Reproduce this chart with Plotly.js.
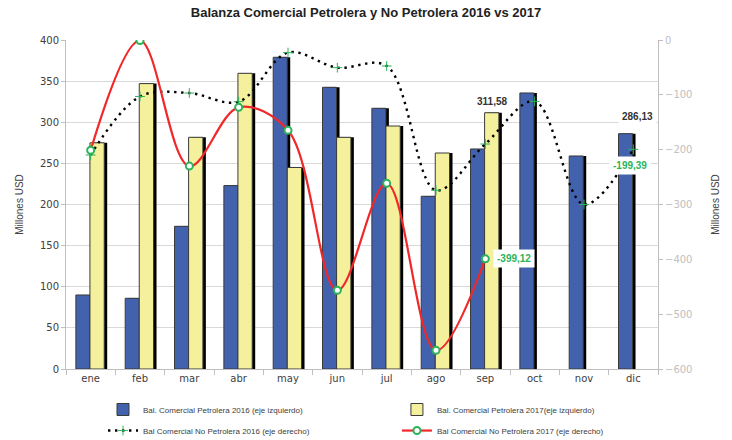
<!DOCTYPE html>
<html>
<head>
<meta charset="utf-8">
<script src="https://cdn.plot.ly/plotly-3.0.1.min.js"></script>
<style>html,body{margin:0;padding:0;background:#fff;}#chart{width:732px;height:440px;}</style>
</head>
<body>
<div id="chart"></div>
<script>
const months = ['ene','feb','mar','abr','may','jun','jul','ago','sep','oct','nov','dic'];
const petro2016 = [90, 86, 173.5, 223, 379, 342.5, 317, 210, 267.5, 335.6, 259, 286.13];
const petro2017 = [275, 347, 281.7, 359.5, 245, 281.7, 295.4, 262.6, 311.58, null, null, null];
const noPetro2016 = [-209.7, -103, -96.7, -112.5, -23, -50.4, -47.4, -274, -189.7, -111.9, -300, -199.39];
const noPetro2017 = [-201, -1, -230, -122.8, -164.7, -456.5, -261.4, -566, -399.12, null, null, null];
const seriesNames = [
  'Bal. Comercial Petrolera 2016 (eje izquierdo)',
  'Bal. Comercial Petrolera 2017(eje izquierdo)',
  'Bal Comercial No Petrolera 2016 (eje derecho)',
  'Bal Comercial No Petrolera 2017 (eje derecho)'
];
const leftTicks = [0, 50, 100, 150, 200, 250, 300, 350, 400];
const rightTicks = [-600, -500, -400, -300, -200, -100, 0];

const BLUE = '#4262ad', YELLOW = '#f5f09b', GREEN = '#2bb35a', RED = '#f0282a';
const bw = 0.285, yw = 0.29, bOff = -0.3, yOff = -0.015, sh = 0.06;

const traces = [
  {type:'bar', x:months, y:petro2016, width:bw, offset:bOff+sh, marker:{color:'#000'}, showlegend:false, hoverinfo:'skip'},
  {type:'bar', x:months, y:petro2016, width:bw, offset:bOff, name:seriesNames[0], legend:'legend',
   marker:{color:BLUE, line:{color:'#3a3a3a', width:1}}},
  {type:'bar', x:months, y:petro2017, width:yw, offset:yOff+sh, marker:{color:'#000'}, showlegend:false, hoverinfo:'skip'},
  {type:'bar', x:months, y:petro2017, width:yw, offset:yOff, name:seriesNames[1], legend:'legend2',
   marker:{color:YELLOW, line:{color:'#3a3a3a', width:1}}},
  {type:'scatter', mode:'lines+markers', x:months, y:noPetro2016, yaxis:'y2', name:seriesNames[2], legend:'legend3',
   line:{color:'#000', width:2.4, dash:'2.4px,4.6px', shape:'spline', smoothing:1},
   marker:{symbol:'cross-thin', size:7, line:{color:GREEN, width:1}}},
  {type:'scatter', mode:'lines+markers', x:months, y:noPetro2017, yaxis:'y2', name:seriesNames[3], legend:'legend4',
   line:{color:RED, width:2.2, shape:'spline', smoothing:1},
   marker:{symbol:'circle', size:7, color:'#fff', line:{color:GREEN, width:2}}}
];

const iSep = months.indexOf('sep'), iDic = months.indexOf('dic');
const fmt = v => v.toFixed(2).replace('.', ',');
const annotations = [
  {x:iSep + yOff + yw/2, y:petro2017[iSep], xref:'x', yref:'y', text:fmt(petro2017[iSep]), showarrow:false,
   yanchor:'middle', yshift:11, font:{family:'Liberation Sans', size:10, color:'#333', weight:'bold'}},
  {x:iDic, y:petro2016[iDic], xref:'x', yref:'y', text:fmt(petro2016[iDic]), showarrow:false,
   yanchor:'middle', xshift:4, yshift:17, bgcolor:'#fff', borderpad:3, font:{family:'Liberation Sans', size:10, color:'#333', weight:'bold'}},
  {x:iSep, y:noPetro2017[iSep], xref:'x', yref:'y2', text:fmt(noPetro2017[iSep]), showarrow:false,
   xanchor:'left', yanchor:'middle', xshift:8, bgcolor:'#fff', borderpad:3, font:{family:'Liberation Sans', size:10, color:GREEN, weight:'bold'}},
  {x:iDic, y:noPetro2016[iDic], xref:'x', yref:'y2', text:fmt(noPetro2016[iDic]), showarrow:false,
   xanchor:'center', yanchor:'middle', xshift:-3, yshift:-16, bgcolor:'#fff', borderpad:3, font:{family:'Liberation Sans', size:10, color:GREEN, weight:'bold'}}
];

const legFont = {family:'Liberation Sans', size:8, color:'#404040'};
const mkLeg = (x, y) => ({orientation:'h', x:x, y:y, xanchor:'left', yanchor:'top', itemwidth:30,
  font:legFont, bgcolor:'rgba(0,0,0,0)'});

const layout = {
  width:732, height:440,
  margin:{l:66, r:74, t:40, b:71, autoexpand:false},
  paper_bgcolor:'#fff', plot_bgcolor:'#fff',
  font:{family:'DejaVu Sans', size:10, color:'#404040'},
  title:{text:'Balanza Comercial Petrolera y No Petrolera 2016 vs 2017', x:0.5, xanchor:'center',
         y:1-12/440, yref:'container', yanchor:'middle',
         font:{family:'Liberation Sans', size:13, color:'#222', weight:'bold'}},
  barmode:'overlay',
  xaxis:{type:'category', categoryarray:months, range:[-0.5, 11.5], showgrid:false,
         showline:true, linecolor:'#bfbfbf', linewidth:1,
         ticks:'outside', tickson:'boundaries', ticklen:5, tickcolor:'#bfbfbf',
         tickfont:{family:'DejaVu Sans', size:10, color:'#404040'}},
  yaxis:{range:[0,400], tickvals:leftTicks, showgrid:true, gridcolor:'#d9d9d9', zeroline:false,
         showline:true, linecolor:'#bfbfbf', ticks:'outside', ticklen:4, tickcolor:'#bfbfbf',
         tickfont:{family:'DejaVu Sans', size:10, color:'#404040'},
         title:{text:'Millones USD', standoff:14, font:{family:'Liberation Sans', size:10, color:'#404040'}}},
  yaxis2:{range:[-600,0], tickvals:rightTicks, overlaying:'y', side:'right', showgrid:false, zeroline:false,
          showline:true, linecolor:'#bfbfbf', ticks:'outside', ticklen:4, tickcolor:'#bfbfbf',
          tickfont:{family:'DejaVu Sans', size:10, color:'#c0c0c0'},
          title:{text:'Millones USD', standoff:20, font:{family:'Liberation Sans', size:10, color:'#404040'}}},
  legend:mkLeg(0.0625, -0.079),
  legend2:mkLeg(0.559, -0.079),
  legend3:mkLeg(0.0625, -0.143),
  legend4:mkLeg(0.559, -0.143),
  annotations:annotations,
  showlegend:true
};

Plotly.newPlot('chart', traces, layout, {displayModeBar:false, staticPlot:true});
</script>
</body>
</html>
